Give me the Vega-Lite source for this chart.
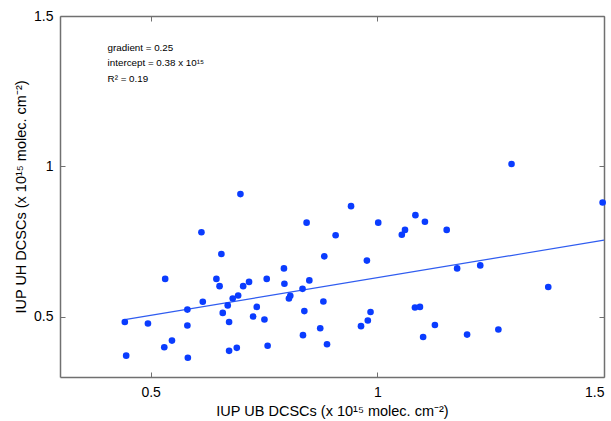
{
  "$schema": "https://vega.github.io/schema/vega-lite/v6.json",
  "width": 544,
  "height": 361,
  "autosize": {"type": "none"},
  "padding": {"left": 60, "top": 16, "right": 7, "bottom": 44},
  "background": "white",
  "config": {
    "view": {"stroke": null},
    "font": "Liberation Sans",
    "axis": {
      "grid": false,
      "domainColor": "#707070",
      "domainWidth": 1.5,
      "tickColor": "#707070",
      "tickSize": -5,
      "tickWidth": 1,
      "labelColor": "#000000",
      "labelFontSize": 14,
      "labelFont": "Liberation Sans",
      "titleFont": "Liberation Sans",
      "titleFontSize": 14.5,
      "titleFontWeight": "normal",
      "titleColor": "#000000"
    }
  },
  "datasets": {
    "pts": [
      {"x": 0.698, "y": 0.908}, {"x": 0.844, "y": 0.813}, {"x": 0.908, "y": 0.771}, {"x": 0.612, "y": 0.781},
      {"x": 0.656, "y": 0.709}, {"x": 0.883, "y": 0.701}, {"x": 0.532, "y": 0.626}, {"x": 0.645, "y": 0.626},
      {"x": 0.756, "y": 0.626}, {"x": 0.794, "y": 0.661}, {"x": 0.652, "y": 0.602}, {"x": 0.704, "y": 0.602},
      {"x": 0.717, "y": 0.616}, {"x": 0.795, "y": 0.61}, {"x": 0.85, "y": 0.621}, {"x": 0.835, "y": 0.593},
      {"x": 0.808, "y": 0.57}, {"x": 0.805, "y": 0.561}, {"x": 0.693, "y": 0.571}, {"x": 0.681, "y": 0.561},
      {"x": 0.615, "y": 0.55}, {"x": 0.67, "y": 0.538}, {"x": 0.734, "y": 0.533}, {"x": 0.881, "y": 0.551},
      {"x": 0.581, "y": 0.524}, {"x": 0.659, "y": 0.513}, {"x": 0.839, "y": 0.519}, {"x": 0.443, "y": 0.483},
      {"x": 0.494, "y": 0.478}, {"x": 0.726, "y": 0.501}, {"x": 0.751, "y": 0.491}, {"x": 0.673, "y": 0.483},
      {"x": 0.581, "y": 0.471}, {"x": 0.874, "y": 0.462}, {"x": 0.836, "y": 0.439}, {"x": 0.547, "y": 0.421},
      {"x": 0.53, "y": 0.399}, {"x": 0.758, "y": 0.404}, {"x": 0.889, "y": 0.409}, {"x": 0.446, "y": 0.371},
      {"x": 0.673, "y": 0.387}, {"x": 0.69, "y": 0.397}, {"x": 0.582, "y": 0.364},
      {"x": 1.296, "y": 1.008}, {"x": 1.497, "y": 0.88}, {"x": 0.942, "y": 0.868}, {"x": 1.084, "y": 0.838},
      {"x": 1.002, "y": 0.813}, {"x": 1.105, "y": 0.816}, {"x": 1.061, "y": 0.789}, {"x": 1.054, "y": 0.773},
      {"x": 1.153, "y": 0.789}, {"x": 0.977, "y": 0.687}, {"x": 1.176, "y": 0.661}, {"x": 1.227, "y": 0.671},
      {"x": 1.377, "y": 0.599}, {"x": 1.083, "y": 0.531}, {"x": 1.094, "y": 0.533}, {"x": 0.985, "y": 0.516},
      {"x": 0.979, "y": 0.488}, {"x": 0.964, "y": 0.469}, {"x": 1.127, "y": 0.473}, {"x": 1.101, "y": 0.433},
      {"x": 1.198, "y": 0.441}, {"x": 1.267, "y": 0.458}
    ],
    "fit": [
      {"x": 0.443, "y": 0.4908},
      {"x": 1.5, "y": 0.755}
    ],
    "notes": [
      {"x": 0.405, "y": 1.392, "label": "gradient = 0.25"},
      {"x": 0.405, "y": 1.343, "label": "intercept = 0.38 x 10¹⁵"},
      {"x": 0.405, "y": 1.29, "label": "R² = 0.19"}
    ]
  },
  "layer": [
    {
      "data": {"name": "fit"},
      "mark": {"type": "line", "color": "#2f5cf0", "strokeWidth": 1.2, "clip": false},
      "encoding": {
        "x": {"field": "x", "type": "quantitative",
              "scale": {"domain": [0.3, 1.5], "nice": false, "zero": false},
              "axis": {"orient": "top", "values": [0.5, 1, 1.5], "labels": false, "title": null}},
        "y": {"field": "y", "type": "quantitative",
              "scale": {"domain": [0.3, 1.5], "nice": false, "zero": false},
              "axis": {"orient": "right", "values": [0.5, 1, 1.5], "labels": false, "title": null}}
      }
    },
    {
      "data": {"name": "pts"},
      "mark": {"type": "circle", "color": "#0a3cff", "opacity": 1, "size": 44, "clip": false},
      "encoding": {
        "x": {"field": "x", "type": "quantitative",
              "scale": {"domain": [0.3, 1.5], "nice": false, "zero": false},
              "axis": {"orient": "bottom", "values": [0.5, 1, 1.5], "format": "~g", "labelPadding": 13,
                       "title": "IUP UB DCSCs (x 10¹⁵ molec. cm⁻²)", "titlePadding": 5}},
        "y": {"field": "y", "type": "quantitative",
              "scale": {"domain": [0.3, 1.5], "nice": false, "zero": false},
              "axis": {"orient": "left", "values": [0.5, 1, 1.5], "format": "~g", "labelPadding": 12,
                       "title": "IUP UH DCSCs (x 10¹⁵ molec. cm⁻²)", "titlePadding": 5}}
      }
    },
    {
      "data": {"name": "notes"},
      "mark": {"type": "text", "align": "left", "baseline": "middle", "fontSize": 9.8, "font": "Liberation Sans", "color": "#000000"},
      "encoding": {
        "x": {"field": "x", "type": "quantitative", "scale": {"domain": [0.3, 1.5], "nice": false, "zero": false}, "axis": null},
        "y": {"field": "y", "type": "quantitative", "scale": {"domain": [0.3, 1.5], "nice": false, "zero": false}, "axis": null},
        "text": {"field": "label"}
      }
    }
  ],
  "resolve": {"axis": {"x": "independent", "y": "independent"}}
}
